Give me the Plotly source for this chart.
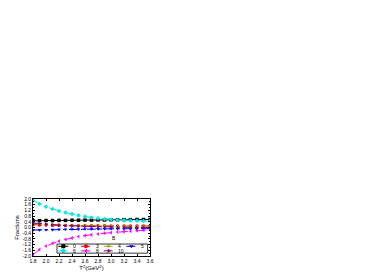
import plotly.graph_objects as go

T2 = [1.8, 1.9, 2.0, 2.1, 2.2, 2.3, 2.4, 2.5, 2.6, 2.7, 2.8, 2.9, 3.0, 3.1, 3.2, 3.3, 3.4, 3.5, 3.6]
b0 = [0.47, 0.48, 0.49, 0.49, 0.50, 0.50, 0.51, 0.51, 0.52, 0.52, 0.53, 0.53, 0.54, 0.54, 0.55, 0.55, 0.56, 0.56, 0.57]
b3 = [0.20, 0.18, 0.17, 0.16, 0.15, 0.14, 0.14, 0.13, 0.13, 0.12, 0.12, 0.12, 0.11, 0.11, 0.11, 0.10, 0.10, 0.10, 0.10]
b4 = [0.28, 0.25, 0.22, 0.20, 0.18, 0.16, 0.15, 0.14, 0.13, 0.12, 0.11, 0.10, 0.09, 0.09, 0.08, 0.08, 0.07, 0.07, 0.06]
b5 = [-0.18, -0.17, -0.16, -0.15, -0.14, -0.13, -0.12, -0.12, -0.11, -0.11, -0.10, -0.10, -0.09, -0.09, -0.09, -0.08, -0.08, -0.08, -0.08]
b6 = [1.90, 1.65, 1.46, 1.30, 1.16, 1.05, 0.94, 0.85, 0.77, 0.70, 0.64, 0.60, 0.56, 0.53, 0.51, 0.49, 0.47, 0.46, 0.45]
b8 = [-1.90, -1.55, -1.30, -1.10, -0.95, -0.84, -0.73, -0.64, -0.57, -0.50, -0.45, -0.40, -0.36, -0.32, -0.29, -0.26, -0.23, -0.20, -0.18]
b10 = [0.32, 0.27, 0.23, 0.19, 0.16, 0.13, 0.11, 0.09, 0.07, 0.06, 0.05, 0.04, 0.03, 0.02, 0.01, 0.01, 0.00, 0.00, -0.01]

names = ["0", "3", "4", "5", "6", "8", "10"]
series = [b0, b3, b4, b5, b6, b8, b10]
colors = ["#000000", "#ff0000", "#a8a800", "#0000ff", "#00e8e8", "#ff00ff", "#800080"]
symbols = ["square", "circle", "triangle-up", "triangle-down", "diamond", "triangle-left", "triangle-right"]
dashes = ["solid", "dash", "dashdot", "dashdot", "dash", "dash", "dashdot"]

fig = go.Figure()
for name, ys, c, s, d in zip(names, series, colors, symbols, dashes):
    fig.add_trace(go.Scatter(x=T2, y=ys, mode="lines+markers", name=name,
                             line=dict(color=c, width=1, dash=d),
                             marker=dict(color=c, symbol=s, size=3.5),
                             showlegend=False))

# manual legend in a small overlay axis (4 columns, 2 rows)
for i, (name, c, s, d) in enumerate(zip(names, colors, symbols, dashes)):
    col = i % 4
    row = i // 4
    yv = 1.5 - row
    fig.add_trace(go.Scatter(x=[col + 0.06, col + 0.28, col + 0.50], y=[yv, yv, yv],
                             mode="lines", line=dict(color=c, width=1, dash=d),
                             xaxis="x2", yaxis="y2", showlegend=False, hoverinfo="skip"))
    fig.add_trace(go.Scatter(x=[col + 0.28], y=[yv], mode="markers",
                             marker=dict(color=c, symbol=s, size=4),
                             xaxis="x2", yaxis="y2", showlegend=False, hoverinfo="skip"))
    fig.add_annotation(x=col + 0.62, y=yv, xref="x2", yref="y2", text=name,
                       showarrow=False, xanchor="left", yanchor="middle",
                       font=dict(size=5, color="#000000", family="Arial"))

# page body has an 8px offset; margins are in figure pixels
L, R, T, B = 25, 382 - 142, 191, 273 - 248
lx0, lx1, ly0, ly1 = 0.205, 0.98, 0.05, 0.21

fig.add_shape(type="rect", xref="paper", yref="paper", x0=lx0, x1=lx1, y0=ly0, y1=ly1,
              line=dict(color="#000000", width=0.8), fillcolor="rgba(0,0,0,0)")
fig.add_annotation(x=0.69, y=0.22, xref="paper", yref="paper", text="B", showarrow=False,
                   xanchor="center", yanchor="bottom",
                   font=dict(size=5, color="#000000", family="Arial"))

axis_font = dict(size=5, color="#000000", family="Arial")
fig.update_layout(
    width=382, height=273,
    margin=dict(l=L, r=R, t=T, b=B),
    paper_bgcolor="white", plot_bgcolor="white",
    xaxis=dict(range=[1.8, 3.6], tickmode="array", automargin=False,
               tickvals=[1.8, 2.0, 2.2, 2.4, 2.6, 2.8, 3.0, 3.2, 3.4, 3.6],
               ticktext=["1.8", "2.0", "2.2", "2.4", "2.6", "2.8", "3.0", "3.2", "3.4", "3.6"],
               ticks="inside", ticklen=2, tickwidth=0.6, tickcolor="#000000",
               showline=True, linecolor="#000000", linewidth=0.8, mirror="ticks",
               showgrid=False, zeroline=False, tickfont=axis_font,
               title=dict(text="T<sup>2</sup>(GeV<sup>2</sup>)", font=dict(size=6, color="#000000", family="Arial"), standoff=1)),
    yaxis=dict(range=[-2.0, 2.0], tickmode="array", automargin=False,
               tickvals=[-2.0, -1.6, -1.2, -0.8, -0.4, 0.0, 0.4, 0.8, 1.2, 1.6, 2.0],
               ticktext=["-2.0", "-1.6", "-1.2", "-0.8", "-0.4", "0.0", "0.4", "0.8", "1.2", "1.6", "2.0"],
               ticks="inside", ticklen=2, tickwidth=0.6, tickcolor="#000000",
               minor=dict(ticks="inside", ticklen=1, dtick=0.2, tickcolor="#000000"),
               showline=True, linecolor="#000000", linewidth=0.8, mirror="ticks",
               showgrid=False, zeroline=False, tickfont=axis_font,
               title=dict(text="Fractions", font=dict(size=6, color="#000000", family="Arial"), standoff=2)),
    xaxis2=dict(domain=[lx0, lx1], range=[0, 4], anchor="y2", visible=False, fixedrange=True),
    yaxis2=dict(domain=[ly0, ly1], range=[0, 2], anchor="x2", visible=False, fixedrange=True),
)

fig.write_html("out.html")
